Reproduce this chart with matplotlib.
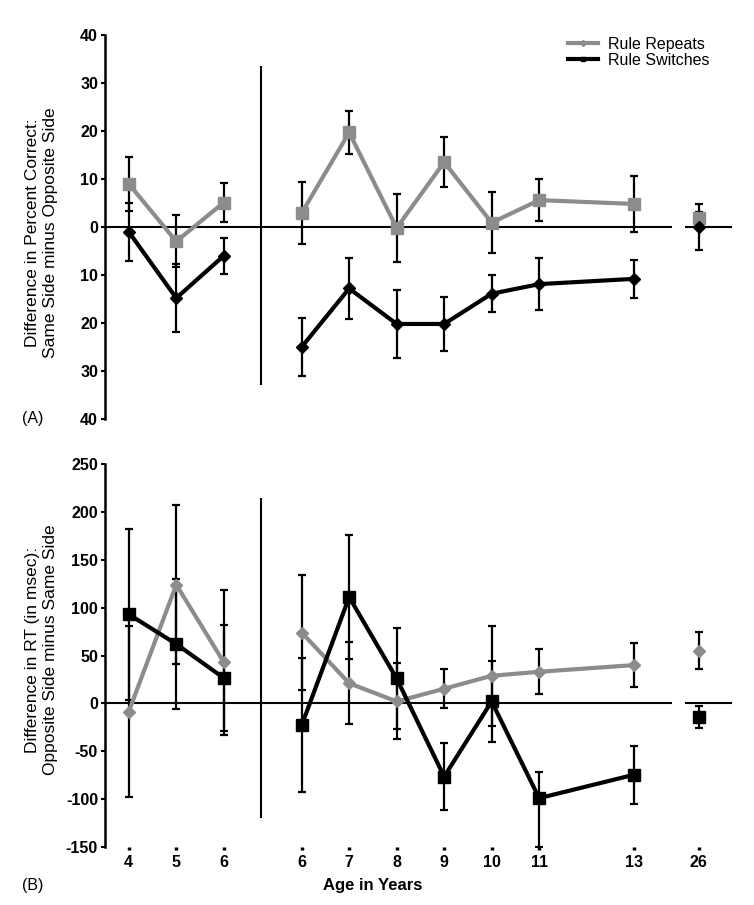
import matplotlib.pyplot as plt
import numpy as np
from matplotlib.lines import Line2D

plt.rcParams['font.family'] = ['Liberation Sans', 'DejaVu Sans']
plt.rcParams['axes.unicode_minus'] = False

# ages shown on the x axis (children in two samples, then adults)
age_labels = ["4", "5", "6", "6", "7", "8", "9", "10", "11", "13", "26"]
ages_a = np.array([4, 5, 6])
ages_b = np.array([6, 7, 8, 9, 10, 11, 13])

# (A) difference in percent correct
acc_rep = [9.0, -3.0, 5.1, 2.9, 19.7, -0.2, 13.5, 0.9, 5.6, 4.8, 1.8]
acc_rep_err = [5.6, 5.4, 4.1, 6.4, 4.4, 7.1, 5.2, 6.4, 4.4, 5.8, 1.4]
acc_sw = [-1.0, -14.8, -6.0, -25.0, -12.8, -20.2, -20.2, -13.9, -11.9, -10.8, 0.0]
acc_sw_err = [6.0, 7.0, 3.8, 6.0, 6.3, 7.1, 5.6, 3.9, 5.4, 3.9, 4.7]

# (B) difference in RT (msec)
rt_rep = [-8.7, 124, 43, 74, 21, 2, 15.3, 28.8, 33, 40, 55]
rt_rep_err = [89, 83, 75.7, 60.5, 42.7, 39.7, 20.2, 52, 23.5, 23, 19.4]
rt_sw = [93, 62, 26.5, -23, 111, 26, -76.5, 2, -99, -74.5, -14]
rt_sw_err_lo = [89, 68, 55.8, 70, 65, 53, 35, 42.5, 51, 30.4, 11.5]
rt_sw_err_hi = [89, 68, 55.8, 70, 65, 53, 35, 42.5, 27, 30.4, 11.5]

# x positions: first sample by index, second sample spaced by age, adults apart
xpos = np.r_[np.arange(3), ages_b - 2.36, 12.0]
groups = [slice(0, 3), slice(3, 10), slice(10, 11)]
divider = 2.78
gray = '#8c8c8c'

fig = plt.figure(figsize=(7.54, 9.05), dpi=100)
ax1 = fig.add_axes([105/754, 1-419/905, 627/754, 384/905])
ax2 = fig.add_axes([105/754, 1-847/905, 627/754, 383/905])


def draw(ax, rep, rep_err, sw, sw_err, rep_m, rep_ms, sw_m, sw_ms):
    rep = np.array(rep); sw = np.array(sw)
    ax.errorbar(xpos, rep, yerr=rep_err, fmt='none', ecolor='black',
                elinewidth=1.6, capsize=3, capthick=1.6, zorder=2)
    ax.errorbar(xpos, sw, yerr=sw_err, fmt='none', ecolor='black',
                elinewidth=1.6, capsize=3, capthick=1.6, zorder=2)
    for g in groups:
        ax.plot(xpos[g], rep[g], color=gray, lw=3, marker=rep_m, ms=rep_ms, zorder=3)
        ax.plot(xpos[g], sw[g], color='black', lw=3, marker=sw_m, ms=sw_ms, zorder=4)


draw(ax1, acc_rep, acc_rep_err, acc_sw, acc_sw_err, 's', 8, 'D', 6)
draw(ax2, rt_rep, rt_rep_err, rt_sw, [rt_sw_err_lo, rt_sw_err_hi], 'D', 6, 's', 8)

for ax, ylim, ticks, dl in [(ax1, (-40, 40), np.arange(-40, 41, 10), (-33, 33.5)),
                            (ax2, (-150, 250), np.arange(-150, 251, 50), (-120, 215))]:
    ax.set_xlim(-0.5, 12.7)
    ax.set_ylim(*ylim)
    ax.set_yticks(ticks)
    ax.hlines(0, -0.5, 11.43, color='black', lw=1.5, zorder=1)
    ax.hlines(0, 11.72, 12.7, color='black', lw=1.5, zorder=1)
    ax.vlines(divider, *dl, color='black', lw=1.5, zorder=1)
    for s in ['top', 'right', 'bottom']:
        ax.spines[s].set_visible(False)
    ax.spines['left'].set_linewidth(1.8)
    ax.tick_params(axis='y', length=3, width=1.5, labelsize=11.5, pad=2)
    for t in ax.get_yticklabels():
        t.set_fontweight('bold')

ax1.set_yticklabels([str(abs(v)) for v in range(-40, 41, 10)])
ax1.set_xticks([])

ax2.set_xticks(xpos)
ax2.set_xticklabels(age_labels, fontweight='bold', fontsize=11.5)
ax2.tick_params(axis='x', length=2.5, width=2.5, pad=3)

fig.text(42/754, 1-233/905, 'Difference in Percent Correct:\nSame Side minus Opposite Side',
         rotation=90, ha='center', va='center', fontsize=12.5, linespacing=1.25)
fig.text(42/754, 1-650/905, 'Difference in RT (in msec):\nOpposite Side minus Same Side',
         rotation=90, ha='center', va='center', fontsize=12.5, linespacing=1.25)
fig.text(22/754, 1-418/905, '(A)', ha='left', va='center', fontsize=11.5)
fig.text(22/754, 1-885/905, '(B)', ha='left', va='center', fontsize=11.5)
fig.text(373/754, 1-885/905, 'Age in Years', ha='center', va='center',
         fontsize=12, fontweight='bold')

handles = [Line2D([], [], color=gray, lw=3, marker='D', ms=3),
           Line2D([], [], color='black', lw=3, marker='s', ms=3)]
fig.legend(handles, ['Rule Repeats', 'Rule Switches'], loc='upper left',
           bbox_to_anchor=(560/754, 1-29/905), frameon=False, fontsize=11.5,
           borderpad=0, labelspacing=0.05, handlelength=1.9, handletextpad=0.6)

fig.savefig('out.png', dpi=100)
